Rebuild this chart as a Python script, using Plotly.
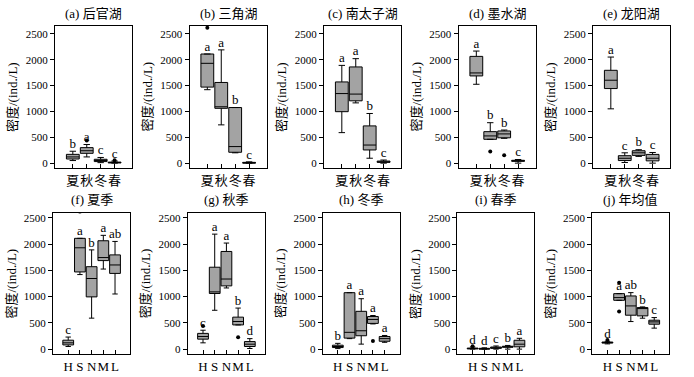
import plotly.graph_objects as go

# ---------------- data ----------------
season_labels = ["夏", "秋", "冬", "春"]
lake_labels = ["H", "S", "N", "M", "L"]
lake_titles = ["(a) 后官湖", "(b) 三角湖", "(c) 南太子湖", "(d) 墨水湖", "(e) 龙阳湖"]
season_titles = ["(f) 夏季", "(g) 秋季", "(h) 冬季", "(i) 春季"]
annual_title = "(j) 年均值"

# per lake (H, S, N, M, L) x season (夏, 秋, 冬, 春)
stat_lo = [[50, 120, 10, 0], [1420, 740, 200, 0], [590, 1165, 95, 0], [1525, 461, 480, 0], [1050, 12, 130, 0]]
stat_q1 = [[80, 190, 30, 5], [1470, 1060, 210, 0], [995, 1205, 255, 15], [1686, 461, 490, 35], [1442, 50, 150, 44]]
stat_med = [[120, 240, 50, 10], [1930, 1090, 320, 5], [1345, 1335, 350, 25], [1744, 526, 565, 45], [1603, 94, 200, 94]]
stat_q3 = [[170, 300, 75, 20], [2110, 1560, 1075, 15], [1570, 1860, 720, 40], [2064, 609, 622, 55], [1795, 144, 240, 169]]
stat_hi = [[230, 360, 110, 40], [2110, 2190, 1075, 25], [1890, 2020, 960, 60], [2167, 782, 640, 70], [2051, 200, 260, 206]]

# outliers: lake index, season index, value
out_lake = [0, 0, 1, 3, 3]
out_season = [1, 3, 0, 1, 2]
out_value = [440, 55, 2620, 224, 154]

lake_letters = [["b", "a", "c", "c"], ["a", "a", "b", "c"], ["a", "a", "b", "c"],
                ["a", "b", "b", "c"], ["a", "c", "b", "c"]]
season_letters = [["c", "a", "b", "a", "ab"], ["c", "a", "a", "b", "d"],
                  ["b", "a", "a", "a", "a"], ["d", "d", "c", "b", "a"]]

annual_lo = [100, 930, 525, 589, 400]
annual_q1 = [115, 930, 646, 633, 475]
annual_med = [125, 981, 823, 779, 519]
annual_q3 = [135, 1057, 1013, 791, 551]
annual_hi = [150, 1057, 1076, 804, 601]
annual_out_x = [0, 1, 1]
annual_out_y = [175, 1266, 715]
annual_letters = ["d", "a", "ab", "b", "c"]

y_ticks = [0, 500, 1000, 1500, 2000, 2500]
y_title = "密度/(ind./L)"

# ---------------- layout helpers ----------------
W, H = 694, 377
FONT = "Liberation Serif, Times New Roman, Noto Sans CJK SC, serif"
BOX_FILL = "#a3a3a3"

fig = go.Figure()
layout = dict(width=W, height=H, margin=dict(l=0, r=0, t=0, b=0),
              paper_bgcolor="white", plot_bgcolor="white", showlegend=False,
              font=dict(family=FONT, color="black", size=11))
annotations = []


def add_panel(idx, left_px, top_px, bottom_px, xr, yr, labels, lo, q1, med, q3, hi,
              ox, oy, letters, title, title_y_px):
    ax = "" if idx == 1 else str(idx)
    xa, ya = "x" + ax, "y" + ax
    n = len(labels)
    xs = list(range(n))
    fig.add_trace(go.Box(x=xs, q1=q1, median=med, q3=q3, lowerfence=lo, upperfence=hi,
                         fillcolor=BOX_FILL, line=dict(color="black", width=1),
                         width=0.92, whiskerwidth=0.5, boxpoints=False,
                         xaxis=xa, yaxis=ya, hoverinfo="skip"))
    if ox:
        fig.add_trace(go.Scatter(x=ox, y=oy, mode="markers",
                                 marker=dict(color="black", size=4),
                                 xaxis=xa, yaxis=ya, hoverinfo="skip"))
    fig.add_trace(go.Scatter(x=xs, y=hi, text=letters, mode="text", textposition="top center",
                             textfont=dict(family=FONT, size=13, color="black"),
                             xaxis=xa, yaxis=ya, hoverinfo="skip"))
    width_px = 77
    layout["xaxis" + ax] = dict(domain=[left_px / W, (left_px + width_px) / W], anchor=ya,
                                range=xr, tickvals=xs, ticktext=labels, ticks="inside",
                                ticklen=4, tickwidth=1, tickcolor="black",
                                showline=True, mirror=True, linecolor="black", linewidth=1,
                                showgrid=False, zeroline=False, tickangle=0,
                                tickfont=dict(family=FONT, size=13))
    layout["yaxis" + ax] = dict(domain=[1 - bottom_px / H, 1 - top_px / H], anchor=xa,
                                range=yr, tickvals=y_ticks, ticks="outside", ticklen=4,
                                tickwidth=1, tickcolor="black",
                                showline=True, mirror=True, linecolor="black", linewidth=1,
                                showgrid=False, zeroline=False,
                                tickfont=dict(family=FONT, size=11))
    annotations.append(dict(text=title, x=(left_px + width_px / 2) / W, y=1 - title_y_px / H,
                            xref="paper", yref="paper", xanchor="center", yanchor="middle",
                            showarrow=False, font=dict(family=FONT, size=13)))
    annotations.append(dict(text=y_title, x=(left_px - 42) / W, y=1 - (top_px + bottom_px) / 2 / H,
                            xref="paper", yref="paper", xanchor="center", yanchor="middle",
                            textangle=-90, showarrow=False, font=dict(family=FONT, size=13)))


# top row: lakes
for i in range(5):
    ox = [out_season[k] for k in range(len(out_lake)) if out_lake[k] == i]
    oy = [out_value[k] for k in range(len(out_lake)) if out_lake[k] == i]
    add_panel(i + 1, 55 + 134.5 * i, 25, 168, [-1.28, 4.25], [-96, 2654], season_labels,
              stat_lo[i], stat_q1[i], stat_med[i], stat_q3[i], stat_hi[i],
              ox, oy, lake_letters[i], lake_titles[i], 13)

# bottom row: seasons
for s in range(4):
    ox = [out_lake[k] for k in range(len(out_lake)) if out_season[k] == s]
    oy = [out_value[k] for k in range(len(out_lake)) if out_season[k] == s]
    add_panel(s + 6, 53 + 134.8 * s, 213, 355, [-1.3, 5.28], [-95, 2595], lake_labels,
              [r[s] for r in stat_lo], [r[s] for r in stat_q1], [r[s] for r in stat_med],
              [r[s] for r in stat_q3], [r[s] for r in stat_hi],
              ox, oy, season_letters[s], season_titles[s], 200)

add_panel(10, 53 + 134.8 * 4, 213, 355, [-1.3, 5.28], [-95, 2595], lake_labels,
          annual_lo, annual_q1, annual_med, annual_q3, annual_hi,
          annual_out_x, annual_out_y, annual_letters, annual_title, 200)

layout["annotations"] = annotations
fig.update_layout(**layout)
fig.write_html("out.html", config={"staticPlot": True},
               post_script="document.body.style.margin='0';document.body.style.overflow='hidden';")
